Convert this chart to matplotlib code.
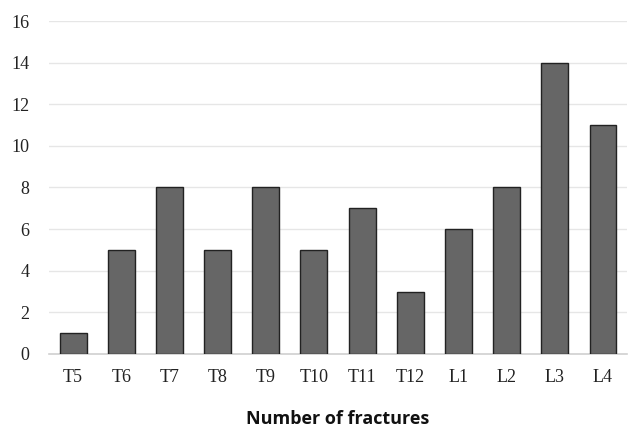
import numpy as np
import matplotlib.pyplot as plt

vertebrae = ["T5", "T6", "T7", "T8", "T9", "T10", "T11", "T12", "L1", "L2", "L3", "L4"]
fractures = [1, 5, 8, 5, 8, 5, 7, 3, 6, 8, 14, 11]

fig = plt.figure(figsize=(6.36, 4.29), dpi=100)
ax = fig.add_axes([0.077, 0.175, 0.909, 0.776])

x = np.arange(len(vertebrae))
ax.bar(x, fractures, width=0.56, color="#666666", edgecolor="#222222", linewidth=1.0, zorder=3)

ax.set_xlim(-0.5, len(vertebrae) - 0.5)
ax.set_ylim(0, 16)
ax.set_yticks(np.arange(0, 17, 2))
ax.set_xticks(x)
ax.set_xticklabels(vertebrae)

ax.grid(axis="y", color="#e6e6e6", linewidth=1.0, zorder=0)
for s in ["top", "right", "left"]:
    ax.spines[s].set_visible(False)
ax.spines["bottom"].set_color("#d0d0d0")
ax.spines["bottom"].set_linewidth(1.2)
ax.tick_params(axis="both", length=0, labelsize=13, colors="#222222")
ax.tick_params(axis="x", pad=11)
ax.tick_params(axis="y", pad=14)
for lab in ax.get_xticklabels() + ax.get_yticklabels():
    lab.set_fontfamily("Liberation Serif")

ax.set_xlabel("Number of fractures", fontsize=13, fontweight="bold",
              family="Open Sans", labelpad=17, color="#111111")

fig.savefig("out.png", dpi=100)
